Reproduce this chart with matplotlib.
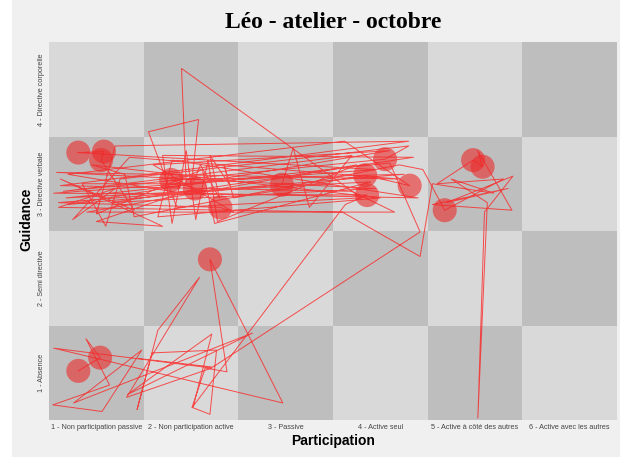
import matplotlib
matplotlib.use("Agg")
import matplotlib.pyplot as plt
import numpy as np
from matplotlib.patches import Rectangle

# Category labels
participation_labels = [
    "1 - Non participation passive",
    "2 - Non participation active",
    "3 - Passive",
    "4 - Active seul",
    "5 - Active à côté des autres",
    "6 - Active avec les autres",
]
guidance_labels = [
    "1 - Absence",
    "2 - Semi directive",
    "3 - Directive verbale",
    "4 - Directive corporelle",
]

# Successive observations (jittered positions on the category scales)
obs_participation = [
    0.81, 1.04, 0.89, 1.14, 0.54, 1.06, 1.48, 0.76, 2.65, 1.33,
    2.22, 2.02, 2.20, 2.27, 1.59, 1.43, 1.65, 2.09, 1.32, 2.22,
    0.55, 2.97, 2.20, 2.38, 2.15, 2.01, 3.63, 3.86, 0.55, 3.95,
    0.80, 1.08, 1.05, 1.40, 0.62, 1.70, 1.00, 2.04, 1.79, 4.25,
    0.60, 2.31, 2.45, 1.60, 4.10, 0.70, 2.96, 3.08, 3.25, 3.70,
    0.65, 4.05, 4.30, 1.25, 1.10, 0.85, 1.95, 1.90, 3.80, 1.85,
    1.55, 2.08, 2.00, 2.10, 2.30, 2.20, 2.40, 2.35, 2.45, 3.84,
    4.31, 3.62, 0.70, 1.90, 4.40, 1.80, 1.65, 4.00, 0.95, 1.30,
    1.40, 4.20, 4.45, 4.68, 5.30, 4.60, 4.98, 5.08, 5.03, 5.39,
    4.55, 5.35, 4.70, 5.40, 5.10, 5.03, 5.13, 4.75, 5.20, 4.55,
    4.42, 3.60, 0.60, 1.20, 0.75, 1.35, 4.20, 0.58, 3.95, 1.15,
    4.35, 1.70, 1.80, 1.95, 2.05, 2.18, 2.28, 3.75, 0.90, 4.15,
    3.70, 0.62, 4.30, 1.20, 1.00, 2.12, 2.25, 3.90, 0.68, 4.10,
    4.42, 2.23, 1.45,
]
obs_guidance = [
    1.02, 1.16, 1.36, 0.87, 0.66, 0.59, 1.24, 0.68, 1.42, 0.77,
    1.41, 0.63, 0.56, 1.24, 1.21, 0.61, 1.45, 2.01, 0.74, 1.05,
    1.26, 0.68, 2.20, 1.01, 1.05, 0.63, 2.78, 2.88, 2.90, 3.15,
    3.33, 3.34, 3.25, 2.72, 3.05, 2.55, 2.60, 2.95, 3.04, 3.10,
    2.80, 2.75, 2.70, 3.20, 3.35, 2.78, 2.99, 3.38, 2.75, 3.30,
    2.92, 3.26, 3.40, 3.05, 2.55, 3.00, 3.00, 4.22, 2.85, 2.75,
    3.55, 3.68, 2.95, 3.20, 2.85, 3.30, 3.00, 3.20, 2.85, 3.09,
    2.98, 3.45, 3.10, 2.90, 2.85, 3.25, 2.65, 2.85, 3.20, 3.10,
    2.65, 3.20, 3.15, 2.72, 3.05, 3.00, 3.25, 3.18, 3.35, 2.72,
    2.78, 2.95, 2.80, 3.08, 2.70, 0.52, 2.80, 3.05, 2.90, 3.00,
    2.23, 2.70, 2.75, 2.95, 2.62, 3.28, 3.05, 3.12, 2.95, 2.80,
    3.28, 3.30, 2.58, 3.35, 2.62, 3.25, 2.60, 3.20, 2.70, 2.70,
    2.92, 2.98, 3.45, 3.40, 2.68, 3.15, 2.58, 3.02, 2.85, 3.22,
    2.49, 1.06, 1.15,
]

# Observations lasting long enough to be highlighted
long_participation = [0.81, 1.08, 1.05, 1.79, 2.04, 2.31, 2.96, 4.05, 3.84,
                      3.86, 4.31, 4.98, 5.08, 4.68, 2.20, 0.81, 1.04]
long_guidance = [3.33, 3.34, 3.25, 3.04, 2.95, 2.75, 2.99, 3.26, 3.09,
                 2.88, 2.98, 3.25, 3.18, 2.72, 2.20, 1.02, 1.16]

W, H, DPI = 620, 457, 100
fig = plt.figure(figsize=(W / DPI, H / DPI), dpi=DPI, facecolor="#f0f0f0")
fig.patches.append(Rectangle((0, 0), 12 / W, 1, transform=fig.transFigure,
                             facecolor="white", edgecolor="none", zorder=0))

ax = fig.add_axes([49 / W, (H - 420) / H, (617 - 49) / W, (420 - 42) / H])

# Checkerboard background
nx, ny = len(participation_labels), len(guidance_labels)
xe = np.arange(nx + 1) + 0.5
ye = np.arange(ny + 1) + 0.5
ii, jj = np.meshgrid(np.arange(1, nx + 1), np.arange(1, ny + 1))
shade = ((ii + jj) % 2 == 0).astype(float)
ax.pcolormesh(xe, ye, shade, cmap=matplotlib.colors.ListedColormap(["#d9d9d9", "#bebebe"]),
              vmin=0, vmax=1, shading="flat", zorder=0)

ax.plot(obs_participation, obs_guidance, color="#ff1a1a", lw=0.7, alpha=0.75, zorder=2)
ax.scatter(long_participation, long_guidance, s=300, color="#ee2a2a", alpha=0.6,
           edgecolors="none", zorder=3)

ax.set_xlim(0.5, nx + 0.5)
ax.set_ylim(0.5, ny + 0.5)
ax.set_xticks(np.arange(1, nx + 1))
ax.set_xticklabels(participation_labels, fontsize=5.2, color="#444444",
                   family="Liberation Sans")
ax.set_yticks(np.arange(1, ny + 1))
ax.set_yticklabels(guidance_labels, fontsize=5.2, color="#444444", rotation=90,
                   va="center", family="Liberation Sans")
ax.tick_params(length=0, pad=3)
for s in ax.spines.values():
    s.set_visible(False)

ax.set_xlabel("Participation", fontsize=10, fontweight="bold",
              family="Liberation Sans", labelpad=2)
ax.set_ylabel("Guidance", fontsize=10, fontweight="bold",
              family="Liberation Sans", labelpad=1)
ax.yaxis.set_label_coords(-0.027, 0.53)

fig.text(333 / W, 1 - 22 / H, "Léo - atelier - octobre", ha="center", va="center",
         fontsize=17, fontweight="bold", family="Liberation Serif")

fig.savefig("out.png", dpi=DPI, facecolor=fig.get_facecolor())
